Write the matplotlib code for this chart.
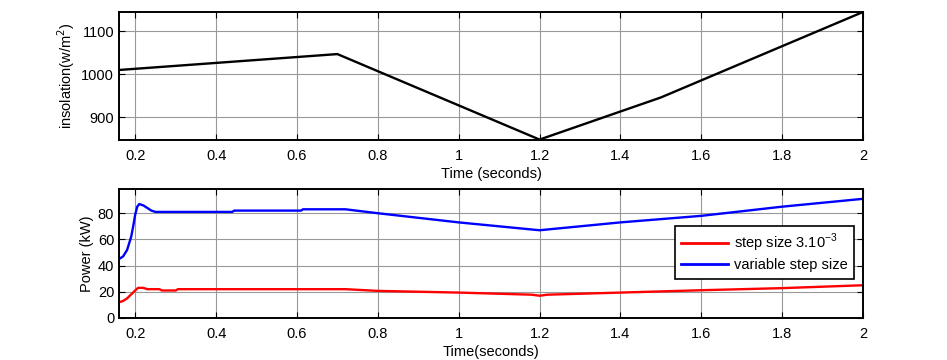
import matplotlib
matplotlib.use("Agg")
import matplotlib.pyplot as plt
import numpy as np

plt.rcParams['font.family'] = ['Liberation Sans', 'DejaVu Sans']

# insolation profile
t_ins = [0.16, 0.7, 1.2, 1.5, 2.0]
insolation = [1010, 1047, 848, 946, 1145]

# power, variable step size (blue)
t_var = [0.16, 0.17, 0.18, 0.19, 0.195, 0.2, 0.205, 0.21, 0.22, 0.23, 0.24, 0.25,
         0.44, 0.445, 0.61, 0.615, 0.72, 0.8, 1.0, 1.2, 1.4, 1.6, 1.8, 2.0]
p_var = [45, 47, 52, 62, 70, 79, 85, 87, 86, 84, 82, 81,
         81, 82, 82, 83, 83, 80, 73, 67, 73, 78, 85, 91]

# power, fixed step size (red)
t_fix = [0.16, 0.17, 0.18, 0.19, 0.2, 0.207, 0.22, 0.23, 0.26, 0.266, 0.3, 0.306,
         0.72, 0.8, 1.0, 1.18, 1.2, 1.22, 1.4, 1.6, 1.8, 2.0]
p_fix = [12, 13, 15, 18, 21, 23, 23, 22, 22, 21, 21, 22,
         22, 20.7, 19.4, 17.8, 17, 17.8, 19.4, 21.2, 22.8, 25]

fs = 10.5

fig = plt.figure(figsize=(9.47, 3.6), dpi=100)
ax1 = fig.add_axes([0.1257, 0.6111, 0.7856, 0.3556])
ax2 = fig.add_axes([0.1257, 0.1167, 0.7856, 0.3583])

ax1.plot(t_ins, insolation, color='black', lw=1.7)
ax1.set_xlim(0.16, 2)
ax1.set_ylim(847, 1145)
ax1.set_yticks([900, 1000, 1100])
ax1.set_ylabel('insolation(w/m$^2$)', fontsize=fs, labelpad=3)
ax1.set_xlabel('Time (seconds)', fontsize=fs, labelpad=3)

ax2.plot(t_fix, p_fix, color='#ff0000', lw=1.7, label='step size 3.10$^{\\mathregular{-3}}$')
ax2.plot(t_var, p_var, color='#0000ff', lw=1.7, label='variable step size')
ax2.set_xlim(0.16, 2)
ax2.set_ylim(0, 98.5)
ax2.set_yticks([0, 20, 40, 60, 80])
ax2.set_ylabel('Power (kW)', fontsize=fs, labelpad=3)
ax2.set_xlabel('Time(seconds)', fontsize=fs, labelpad=3)
leg = ax2.legend(loc='upper right', bbox_to_anchor=(0.988, 0.716), borderaxespad=0,
                 fontsize=fs, fancybox=False, framealpha=1, edgecolor='black',
                 handlelength=3.2, handletextpad=0.4, borderpad=0.45, labelspacing=0.25)
leg.get_frame().set_linewidth(1.2)
for line in leg.get_lines():
    line.set_linewidth(2.0)

for ax in (ax1, ax2):
    ticks = [0.2, 0.4, 0.6, 0.8, 1, 1.2, 1.4, 1.6, 1.8, 2]
    ax.set_xticks(ticks)
    ax.set_xticklabels(['0.2', '0.4', '0.6', '0.8', '1', '1.2', '1.4', '1.6', '1.8', '2'])
    ax.grid(True, color='#999999', lw=0.8)
    ax.tick_params(direction='in', top=True, right=True, labelsize=fs, length=4)
    ax.tick_params(axis='x', pad=6.5)
    for s in ax.spines.values():
        s.set_linewidth(1.4)

fig.savefig('out.png', dpi=100)
